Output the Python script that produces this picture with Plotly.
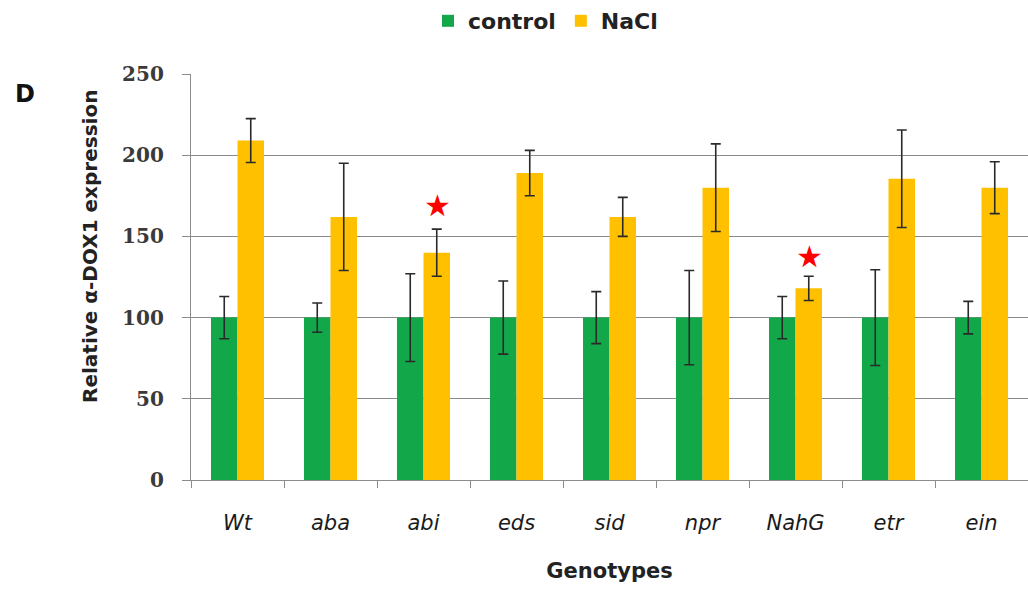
import plotly.graph_objects as go

genotypes = ["Wt", "aba", "abi", "eds", "sid", "npr", "NahG", "etr", "ein"]
control = [100, 100, 100, 100, 100, 100, 100, 100, 100]
control_err = [13, 9, 27, 22.5, 16, 29, 13, 29.5, 10]
nacl = [209, 162, 140, 189, 162, 180, 118, 185.5, 180]
nacl_err = [13.5, 33, 14.5, 14, 12, 27, 7.5, 30, 16]
star_genotypes = ["abi", "NahG"]
star_values = [169, 137.5]
y_ticks = [0, 50, 100, 150, 200, 250]

GREEN = "#12A84A"
YELLOW = "#FFC000"
FONT = "DejaVu Sans"

fig = go.Figure()
fig.add_trace(go.Bar(
    x=genotypes, y=control, name="<b>control</b>", marker_color=GREEN,
    marker_line_width=0,
    error_y=dict(type="data", array=control_err, color="#2a2a2a", thickness=1.6, width=5),
))
fig.add_trace(go.Bar(
    x=genotypes, y=nacl, name="<b>NaCl</b>", marker_color=YELLOW,
    marker_line_width=0,
    error_y=dict(type="data", array=nacl_err, color="#2a2a2a", thickness=1.6, width=5),
))

for g, v in zip(star_genotypes, star_values):
    fig.add_annotation(x=g, y=v, xref="x", yref="y", text="★", showarrow=False,
                       xshift=13.5, font=dict(family=FONT, size=30, color="#FF0000"))

# panel letter
fig.add_annotation(x=-166 / 837, y=1.0, xref="paper", yref="paper", text="<b>D</b>",
                   showarrow=False, xanchor="center", yanchor="bottom", yshift=-36,
                   font=dict(family=FONT, size=24, color="#111111"))

# y-axis title
fig.add_annotation(x=-101 / 837, y=(480 - 247) / 406, xref="paper", yref="paper",
                   text="<b>Relative α-DOX1 expression</b>", textangle=-90, showarrow=False,
                   xanchor="center", yanchor="middle",
                   font=dict(family=FONT, size=20, color="#222222"))

fig.update_layout(
    width=1028, height=589,
    margin=dict(l=191, r=0, t=74, b=109),
    paper_bgcolor="white", plot_bgcolor="white",
    barmode="group", bargap=0.43, bargroupgap=0,
    showlegend=True,
    legend=dict(orientation="h", x=(428 - 191) / 837, xanchor="left", y=1.0, yanchor="top",
                yref="container", font=dict(family=FONT, size=22, color="#222222"),
                itemwidth=30, traceorder="normal", bgcolor="rgba(0,0,0,0)"),
    font=dict(family=FONT, color="#222222"),
)

fig.update_xaxes(
    type="category", showgrid=False, showline=True, linecolor="#8c8c8c", linewidth=1.3,
    ticks="outside", ticklen=7, tickcolor="#8c8c8c", tickson="boundaries",
    tickvals=genotypes, ticktext=["<i>" + g + "</i>" for g in genotypes],
    tickfont=dict(family=FONT, size=21, color="#1a1a1a"),
    ticklabelstandoff=24,
    title=dict(text="<b>Genotypes</b>", font=dict(family=FONT, size=21, color="#222222"), standoff=28),
    range=[-0.5, 8.5],
)
fig.update_yaxes(
    range=[0, 250], tickvals=y_ticks, showgrid=True, gridcolor="#8a8a8a", gridwidth=1,
    showline=True, linecolor="#8c8c8c", linewidth=1.3, ticks="outside", ticklen=8,
    tickcolor="#8c8c8c", zeroline=False,
    tickfont=dict(family="DejaVu Serif", size=20, color="#3a3a3a", weight="bold"),
    ticklabelstandoff=14,
)

fig.write_html("out.html")
